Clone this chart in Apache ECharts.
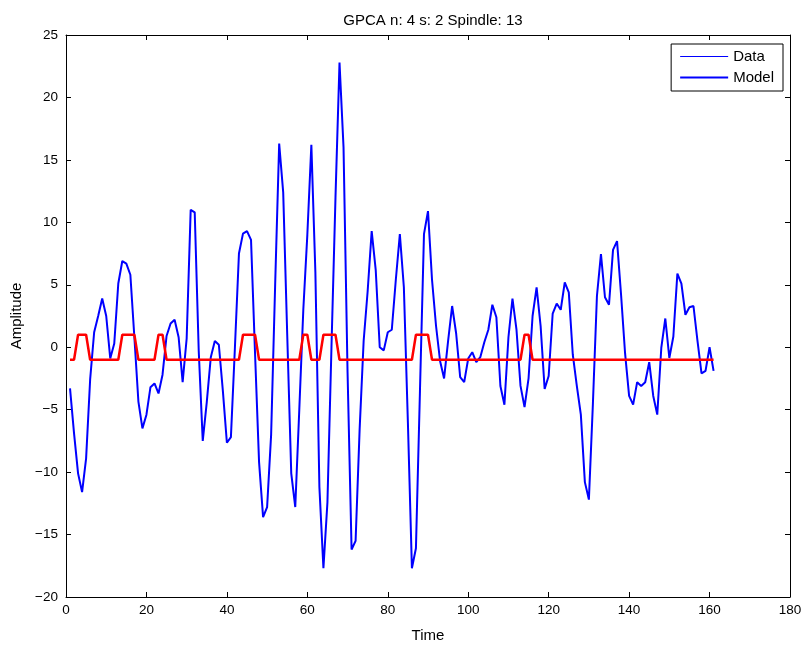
<!DOCTYPE html>
<html>
<head>
<meta charset="utf-8">
<title>GPCA</title>
<script src="https://cdn.jsdelivr.net/npm/echarts@6/dist/echarts.min.js"></script>
<style>
  html, body { margin: 0; padding: 0; background: #fff; }
  #ch-main { width: 805px; height: 648px; }
</style>
</head>
<body>
<div id="ch-main"></div>
<script>
// values, one per time step (1..161)
var dataValues = [
    -3.3, -6.9, -10.1, -11.6, -8.9, -2.6, 1.2, 2.5, 3.9, 2.5,
    -0.9, 0.3, 5.1, 6.9, 6.7, 5.8, 0.8, -4.35, -6.5, -5.4,
    -3.2, -2.9, -3.7, -2.2, 0.9, 1.9, 2.2, 0.8, -2.8, 0.7,
    11.0, 10.8, -0.3, -7.5, -4.4, -0.8, 0.5, 0.2, -3.5, -7.65,
    -7.2, 0.0, 7.5, 9.1, 9.3, 8.6, -0.5, -9.2, -13.6, -12.8,
    -7, 5, 16.3, 12.4, 1, -10.1, -12.8, -5, 3, 9,
    16.2, 6.0, -11.2, -17.7, -12.4, 0, 12, 22.8, 16.0, -2,
    -16.2, -15.5, -6.6, 0.5, 4.5, 9.3, 6.2, 0.0, -0.25, 1.2,
    1.4, 5.4, 9.05, 4.8, -6, -17.7, -16.1, -3.5, 9.05, 10.9,
    5.4, 1.7, -1.1, -2.5, 0.5, 3.3, 1.1, -2.4, -2.8, -0.9,
    -0.4, -1.2, -0.8, 0.4, 1.4, 3.4, 2.4, -3.1, -4.6, 0.8,
    3.9, 1.4, -3.1, -4.8, -2.5, 2.5, 4.8, 1.7, -3.35, -2.3,
    2.7, 3.5, 3.0, 5.2, 4.4, -0.6, -3.1, -5.4, -10.8, -12.2,
    -4.5, 4.1, 7.45, 4.0, 3.4, 7.8, 8.5, 4.2, -0.5, -3.9,
    -4.6, -2.8, -3.1, -2.8, -1.2, -3.9, -5.4, -0.06, 2.3, -0.86,
    0.86, 5.9, 5.1, 2.6, 3.2, 3.3, 0.5, -2.1, -1.9, 0.0,
    -1.9
];

// model output (+1 / -1)
var modelValues = [
    -1, -1, 1, 1, 1, -1, -1, -1, -1, -1,
    -1, -1, -1, 1, 1, 1, 1, -1, -1, -1,
    -1, -1, 1, 1, -1, -1, -1, -1, -1, -1,
    -1, -1, -1, -1, -1, -1, -1, -1, -1, -1,
    -1, -1, -1, 1, 1, 1, 1, -1, -1, -1,
    -1, -1, -1, -1, -1, -1, -1, -1, 1, 1,
    -1, -1, -1, 1, 1, 1, 1, -1, -1, -1,
    -1, -1, -1, -1, -1, -1, -1, -1, -1, -1,
    -1, -1, -1, -1, -1, -1, 1, 1, 1, 1,
    -1, -1, -1, -1, -1, -1, -1, -1, -1, -1,
    -1, -1, -1, -1, -1, -1, -1, -1, -1, -1,
    -1, -1, -1, 1, 1, -1, -1, -1, -1, -1,
    -1, -1, -1, -1, -1, -1, -1, -1, -1, -1,
    -1, -1, -1, -1, -1, -1, -1, -1, -1, -1,
    -1, -1, -1, -1, -1, -1, -1, -1, -1, -1,
    -1, -1, -1, -1, -1, -1, -1, -1, -1, -1,
    -1
];

var xTicks = [0, 20, 40, 60, 80, 100, 120, 140, 160, 180];
var yTicks = [-20, -15, -10, -5, 0, 5, 10, 15, 20, 25];

function pairs(vals) {
    var out = [];
    for (var i = 0; i < vals.length; i++) {
        out.push([i + 1, vals[i]]);
    }
    return out;
}

var font = '"Liberation Sans", Arial, Helvetica, sans-serif';
var minus = function (v) { return String(v).replace('-', '\u2212'); };

var myChart = echarts.init(document.getElementById('ch-main'));

var baseX = {
    type: 'value',
    min: xTicks[0],
    max: xTicks[xTicks.length - 1],
    interval: 20,
    axisLine: {show: true, onZero: false, lineStyle: {color: '#000', width: 1}},
    axisTick: {show: true, inside: true, length: 5, lineStyle: {color: '#000'}},
    splitLine: {show: false}
};
var baseY = {
    type: 'value',
    min: yTicks[0],
    max: yTicks[yTicks.length - 1],
    interval: 5,
    axisLine: {show: true, onZero: false, lineStyle: {color: '#000', width: 1}},
    axisTick: {show: true, inside: true, length: 5, lineStyle: {color: '#000'}},
    splitLine: {show: false}
};

var option = {
    animation: false,
    backgroundColor: '#fff',
    title: {
        text: 'GPCA n: 4 s: 2 Spindle: 13',
        left: 428,
        top: 8,
        textAlign: 'center',
        textStyle: {fontFamily: font, fontSize: 15, fontWeight: 'normal', color: '#000'}
    },
    grid: {left: 66, right: 15, top: 35, bottom: 51, containLabel: false},
    legend: {
        orient: 'vertical',
        right: 22,
        top: 44,
        padding: [5, 9, 6, 9],
        itemGap: 6,
        itemWidth: 48,
        itemHeight: 14,
        backgroundColor: '#fff',
        borderColor: '#000',
        borderWidth: 1,
        borderRadius: 0,
        textStyle: {fontFamily: font, fontSize: 15, lineHeight: 14, color: '#000', padding: [0, 0, 0, 0]},
        data: [
            {name: 'Data', icon: 'path://M0,0H48V1H0Z', itemStyle: {color: '#0000ff'}},
            {name: 'Model', icon: 'path://M0,0H48V2H0Z', itemStyle: {color: '#0000ff'}}
        ]
    },
    xAxis: [
        Object.assign({}, baseX, {
            position: 'bottom',
            name: 'Time',
            nameLocation: 'middle',
            nameGap: 31,
            nameTextStyle: {fontFamily: font, fontSize: 15, color: '#000'},
            axisLabel: {fontFamily: font, fontSize: 13.5, color: '#000', margin: 6, formatter: minus}
        }),
        Object.assign({}, baseX, {position: 'top', axisLabel: {show: false}})
    ],
    yAxis: [
        Object.assign({}, baseY, {
            position: 'left',
            name: 'Amplitude',
            nameLocation: 'middle',
            nameGap: 40,
            nameTextStyle: {fontFamily: font, fontSize: 15, color: '#000'},
            axisLabel: {fontFamily: font, fontSize: 13.5, color: '#000', margin: 8, formatter: minus}
        }),
        Object.assign({}, baseY, {position: 'right', axisLabel: {show: false}})
    ],
    series: [
        {
            name: 'Data',
            type: 'line',
            data: pairs(dataValues),
            symbol: 'none',
            lineStyle: {color: '#0000ff', width: 2},
            itemStyle: {color: '#0000ff'},
            z: 2
        },
        {
            name: 'Model',
            type: 'line',
            data: pairs(modelValues),
            symbol: 'none',
            lineStyle: {color: '#ff0000', width: 2.5},
            itemStyle: {color: '#ff0000'},
            z: 3
        }
    ]
};

myChart.setOption(option);
</script>
</body>
</html>
